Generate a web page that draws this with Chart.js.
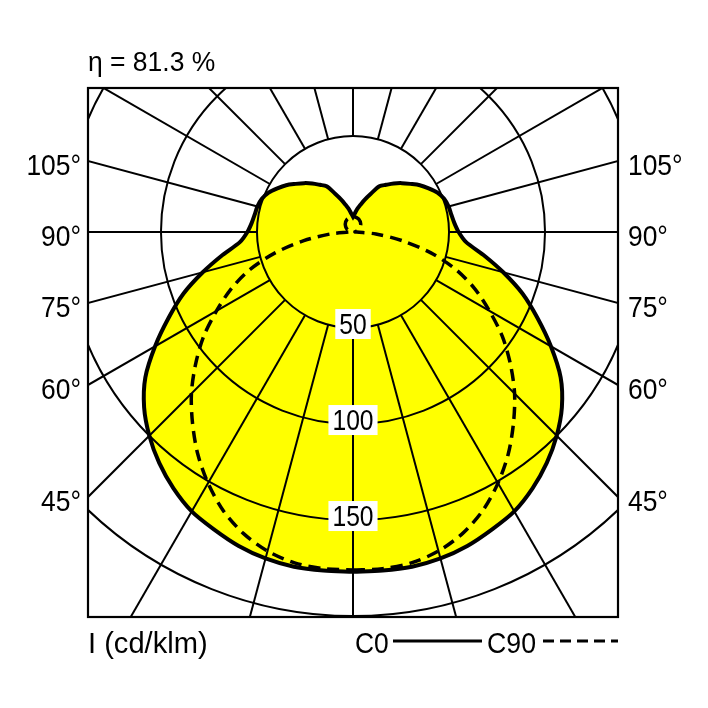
<!DOCTYPE html>
<html>
<head>
<meta charset="utf-8">
<script src="https://cdn.jsdelivr.net/npm/chart.js@4"></script>
<style>
  html, body { margin: 0; padding: 0; background: #fff; }
  canvas { display: block; }
</style>
</head>
<body>
<canvas id="ldc" width="708" height="708"></canvas>
<script>
// gamma angles (0 = straight down), values in cd/klm
const gammaAngles = [0,5,10,15,20,25,30,35,40,45,50,55,60,65,70,75,80,85,90,
  95,100,105,110,115,120,125,130,135,140,145,150,155,160,165,170,175,180];
const c0Values = [177,177,177,176,174,171,168,163,157,150,142,132,119,106,94,81,69,59,55,
  53,52,51.5,50.5,48.5,45.5,42.5,39,36,33,30,27.5,22,18,14.5,12,9.5,8];
const c90Values = [176,176,175,172,167,160,151,141,130,119,107,95,82,70,57,42,26,12,2,
  1,1.5,2,2.7,3.4,4,4.6,5.1,5.7,6.1,6.6,6.9,7.3,7.5,7.7,7.9,8,8];
const ringValues = [50, 100, 150, 200];
const ringLabels = [50, 100, 150];
const sideAngles = [45, 60, 75, 90, 105];
const spokeStep = 15;
const etaText = 'η = 81.3 %';
const unitText = 'I (cd/klm)';

const FONT = '"Liberation Sans", Arial, sans-serif';

// polar -> x/y, right half then mirrored left half
function polarPoints(values) {
  const pts = [];
  gammaAngles.forEach((g, i) => {
    const r = g * Math.PI / 180;
    pts.push({x: values[i] * Math.sin(r), y: -values[i] * Math.cos(r)});
  });
  for (let i = gammaAngles.length - 1; i >= 0; i--) {
    const r = gammaAngles[i] * Math.PI / 180;
    pts.push({x: -values[i] * Math.sin(r), y: -values[i] * Math.cos(r)});
  }
  return pts;
}

// narrow-looking text: squeeze horizontally
function squeezed(ctx, text, px, py, size, sx, align) {
  ctx.save();
  ctx.font = size + 'px ' + FONT;
  const w = ctx.measureText(text).width * sx;
  let left = px;
  if (align === 'right') left = px - w;
  else if (align === 'center') left = px - w / 2;
  ctx.translate(left, py);
  ctx.scale(sx, 1);
  ctx.textAlign = 'left';
  ctx.fillText(text, 0, 0);
  ctx.restore();
  return w;
}

const polarGrid = {
  id: 'polarGrid',
  beforeDatasetsDraw(chart) {
    const {ctx, chartArea: a, scales: {x, y}} = chart;
    const cx = x.getPixelForValue(0), cy = y.getPixelForValue(0);
    ctx.save();
    ctx.beginPath();
    ctx.rect(a.left, a.top, a.right - a.left, a.bottom - a.top);
    ctx.clip();
    ctx.strokeStyle = '#000';
    ctx.lineWidth = 2;
    ringValues.forEach(v => {
      const r = x.getPixelForValue(v) - cx;
      ctx.beginPath();
      ctx.arc(cx, cy, r, 0, Math.PI * 2);
      ctx.stroke();
    });
    const inner = ringValues[0];
    for (let g = 0; g < 360; g += spokeStep) {
      const rad = g * Math.PI / 180;
      const s = Math.sin(rad), c = Math.cos(rad);
      ctx.beginPath();
      ctx.moveTo(x.getPixelForValue(inner * s), y.getPixelForValue(-inner * c));
      ctx.lineTo(x.getPixelForValue(400 * s), y.getPixelForValue(-400 * c));
      ctx.stroke();
    }
    ctx.restore();
  },
  afterDatasetsDraw(chart) {
    const {ctx, scales: {x, y}} = chart;
    const cx = x.getPixelForValue(0);
    ctx.save();
    ctx.textBaseline = 'middle';
    ringLabels.forEach(v => {
      const py = y.getPixelForValue(-v);
      const t = String(v);
      ctx.font = '29px ' + FONT;
      const w = ctx.measureText(t).width * 0.85 + 8;
      ctx.fillStyle = '#fff';
      ctx.fillRect(cx - w / 2, py - 19, w, 30);
      ctx.fillStyle = '#000';
      squeezed(ctx, t, cx, py - 2, 29, 0.85, 'center');
    });
    ctx.restore();
  },
  afterDraw(chart) {
    const {ctx, chartArea: a, scales: {x, y}} = chart;
    ctx.save();
    ctx.strokeStyle = '#000';
    ctx.lineWidth = 2.2;
    ctx.strokeRect(a.left, a.top, a.right - a.left, a.bottom - a.top);

    ctx.fillStyle = '#000';
    ctx.textBaseline = 'middle';
    sideAngles.forEach(g => {
      const rad = g * Math.PI / 180;
      const yv = -x.max * Math.cos(rad) / Math.sin(rad);
      const py = y.getPixelForValue(yv) + 6;
      squeezed(ctx, g + '°', a.left - 7, py, 30, 0.88, 'right');
      squeezed(ctx, g + '°', a.right + 10, py, 30, 0.88, 'left');
    });

    ctx.textBaseline = 'alphabetic';
    squeezed(ctx, etaText, a.left, 71, 27, 0.98, 'left');
    squeezed(ctx, unitText, a.left, 653, 30, 0.97, 'left');
    squeezed(ctx, 'C0', 355, 653, 30, 0.88, 'left');
    squeezed(ctx, 'C90', 487, 653, 30, 0.89, 'left');
    ctx.lineWidth = 3;
    ctx.beginPath();
    ctx.moveTo(393, 641);
    ctx.lineTo(482, 641);
    ctx.stroke();
    ctx.setLineDash([11, 6]);
    ctx.beginPath();
    ctx.moveTo(543, 641);
    ctx.lineTo(618, 641);
    ctx.stroke();
    ctx.restore();
  }
};

new Chart(document.getElementById('ldc'), {
  type: 'scatter',
  data: {
    datasets: [
      {
        label: 'C90',
        data: polarPoints(c90Values),
        showLine: true,
        borderColor: '#000',
        borderWidth: 3.5,
        borderDash: [12, 7],
        pointRadius: 0,
        fill: false,
        tension: 0.3
      },
      {
        label: 'C0',
        data: polarPoints(c0Values),
        showLine: true,
        borderColor: '#000',
        borderWidth: 4,
        backgroundColor: '#ffff00',
        pointRadius: 0,
        fill: 'shape',
        tension: 0.3
      }
    ]
  },
  options: {
    responsive: false,
    devicePixelRatio: 1,
    animation: false,
    layout: { padding: { left: 88, top: 88, right: 90, bottom: 91 } },
    scales: {
      x: { type: 'linear', min: -138, max: 138, display: false },
      y: { type: 'linear', min: -200.5, max: 75, display: false }
    },
    plugins: {
      legend: { display: false },
      tooltip: { enabled: false },
      filler: { drawTime: 'beforeDatasetsDraw' }
    }
  },
  plugins: [polarGrid]
});
</script>
</body>
</html>
